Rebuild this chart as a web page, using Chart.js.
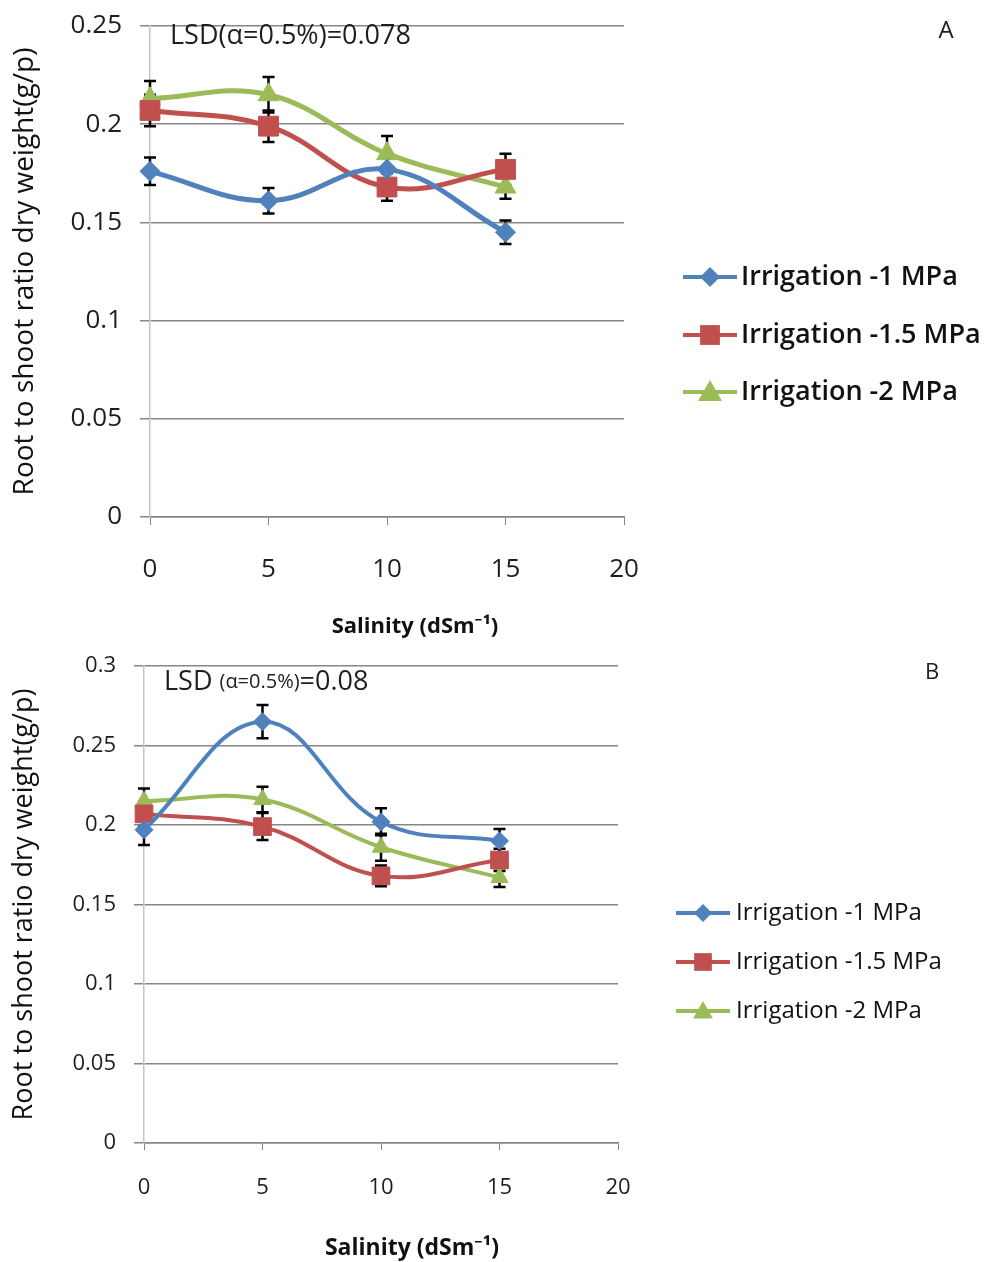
<!DOCTYPE html>
<html lang="en">
<head>
    <meta charset="UTF-8" />
    <title>Root to shoot ratio dry weight</title>
    <script src="https://cdn.jsdelivr.net/npm/chart.js@4.4.1/dist/chart.umd.min.js"></script>
    <style>
        body { margin: 0; background: #fff; }
        .panel { position: absolute; left: 0; }
        #panelA { top: 0; }
        #panelB { top: 645px; }
    </style>
</head>
<body>
    <div class="panel" id="panelA"><canvas id="chartA" width="987" height="645"></canvas></div>
    <div class="panel" id="panelB"><canvas id="chartB" width="987" height="617"></canvas></div>
    <script>
        // Salinity levels (dSm-1)
        const salinity = [0, 5, 10, 15];
        const seriesLabels = ['Irrigation -1 MPa', 'Irrigation -1.5 MPa', 'Irrigation -2 MPa'];

        // Panel A
        const a1MPa = [0.176, 0.161, 0.177, 0.145];
        const a1MPaErr = [0.007, 0.0065, 0.006, 0.006];
        const a15MPa = [0.207, 0.199, 0.168, 0.177];
        const a15MPaErr = [0.008, 0.008, 0.007, 0.008];
        const a2MPa = [0.213, 0.215, 0.185, 0.168];
        const a2MPaErr = [0.009, 0.009, 0.009, 0.006];

        // Panel B
        const b1MPa = [0.197, 0.265, 0.202, 0.190];
        const b1MPaErr = [0.0095, 0.0105, 0.0085, 0.0075];
        const b15MPa = [0.207, 0.199, 0.168, 0.178];
        const b15MPaErr = [0.008, 0.0085, 0.0065, 0.007];
        const b2MPa = [0.215, 0.216, 0.186, 0.167];
        const b2MPaErr = [0.008, 0.008, 0.0085, 0.006];

        const xTicks = [0, 5, 10, 15, 20];

        const colors = ['#4F81BD', '#C0504D', '#9BBB59'];
        const styles = ['rectRot', 'rect', 'triangle'];
        const FONT = "'Open Sans', 'Noto Sans', sans-serif";
        const GRID = '#868686';

        Chart.defaults.font.family = FONT;
        Chart.defaults.color = '#1e1e1e';

        // vertical error bars, drawn under the markers
        const errorBars = {
            id: 'errorBars',
            beforeDatasetsDraw(chart, args, opts) {
                const ctx = chart.ctx;
                const ys = chart.scales.y, xs = chart.scales.x;
                ctx.save();
                ctx.strokeStyle = '#000';
                ctx.lineWidth = opts.width;
                chart.data.datasets.forEach(ds => {
                    ds.data.forEach((p, i) => {
                        const x = xs.getPixelForValue(p.x);
                        const top = ys.getPixelForValue(p.y + ds.err[i]);
                        const bot = ys.getPixelForValue(p.y - ds.err[i]);
                        ctx.beginPath();
                        ctx.moveTo(x, top); ctx.lineTo(x, bot);
                        ctx.moveTo(x - opts.cap, top); ctx.lineTo(x + opts.cap, top);
                        ctx.moveTo(x - opts.cap, bot); ctx.lineTo(x + opts.cap, bot);
                        ctx.stroke();
                    });
                });
                ctx.restore();
            }
        };

        function drawShape(ctx, style, r, x, y) {
            if (style === 'rectRot') {
                ctx.moveTo(x, y - r); ctx.lineTo(x + r, y); ctx.lineTo(x, y + r); ctx.lineTo(x - r, y);
            } else if (style === 'rect') {
                const s = Math.SQRT1_2 * r;
                ctx.rect(x - s, y - s, 2 * s, 2 * s);
            } else {
                const h = r * 0.75;
                ctx.moveTo(x, y - r); ctx.lineTo(x + r, y + h); ctx.lineTo(x - r, y + h);
            }
            ctx.closePath();
        }

        // legend to the right, x title, LSD note and panel letter
        const extras = {
            id: 'extras',
            afterDraw(chart, args, o) {
                const ctx = chart.ctx;
                ctx.save();
                chart.data.datasets.forEach((ds, i) => {
                    const y = o.legendY[i];
                    ctx.strokeStyle = ds.borderColor;
                    ctx.lineWidth = o.legendLine;
                    ctx.beginPath();
                    ctx.moveTo(o.legendX0, y); ctx.lineTo(o.legendX1, y);
                    ctx.stroke();
                    ctx.fillStyle = ds.borderColor;
                    ctx.beginPath();
                    drawShape(ctx, ds.pointStyle, ds.pointRadius, (o.legendX0 + o.legendX1) / 2, y);
                    ctx.fill();
                    ctx.fillStyle = '#111';
                    ctx.font = o.legendFont;
                    ctx.textBaseline = 'middle';
                    ctx.textAlign = 'left';
                    ctx.fillText(ds.label, o.legendTextX, y);
                });
                // LSD text, drawn in parts
                let x = o.lsdX;
                ctx.fillStyle = '#1e1e1e';
                ctx.textBaseline = 'middle';
                o.lsdParts.forEach(p => {
                    ctx.font = p.font;
                    ctx.fillText(p.text, x, o.lsdY);
                    x += ctx.measureText(p.text).width;
                });
                ctx.textAlign = 'center';
                ctx.font = o.letterFont;
                ctx.fillText(o.letter, o.letterX, o.letterY);
                ctx.fillStyle = '#111';
                ctx.font = o.xTitleFont;
                ctx.fillText('Salinity (dSm\u207B\u00B9)', o.xTitleX, o.xTitleY);
                ctx.restore();
            }
        };

        function makeChart(id, series, errs, cfg) {
            const datasets = series.map((vals, i) => ({
                label: seriesLabels[i],
                data: vals.map((v, j) => ({ x: salinity[j], y: v })),
                err: errs[i],
                borderColor: colors[i],
                backgroundColor: colors[i],
                pointBackgroundColor: colors[i],
                pointBorderColor: colors[i],
                borderWidth: cfg.lineWidth,
                pointStyle: styles[i],
                pointRadius: cfg.radii[i],
                pointBorderWidth: 1,
                tension: 0.4,
                fill: false,
                clip: false
            }));
            return new Chart(document.getElementById(id), {
                type: 'line',
                data: { datasets: datasets },
                options: {
                    responsive: false,
                    animation: false,
                    layout: { padding: { left: 4, top: cfg.top, right: cfg.right, bottom: 0 } },
                    parsing: false,
                    scales: {
                        x: {
                            type: 'linear',
                            min: 0, max: 20,
                            afterBuildTicks: s => { s.ticks = xTicks.map(v => ({ value: v })); },
                            afterFit: s => { s.height = cfg.xHeight; },
                            grid: { display: true, drawOnChartArea: false, drawTicks: true,
                                    tickLength: cfg.tickLen, color: GRID, lineWidth: 1 },
                            border: { display: true, color: GRID, width: 1.5 },
                            ticks: { padding: cfg.xPad, font: { size: cfg.tickFont }, maxRotation: 0 }
                        },
                        y: {
                            min: 0, max: cfg.yMax,
                            afterFit: s => {
                                s.width = cfg.yWidth;
                                s.paddingTop = 0;
                                s.paddingBottom = 0;
                            },
                            ticks: { stepSize: 0.05, padding: 18, font: { size: cfg.tickFont },
                                     callback: v => String(Number(v.toFixed(2))) },
                            grid: { color: GRID, lineWidth: 1.5, tickLength: 10 },
                            border: { display: true, color: '#c4c4c4', width: 1.5 },
                            title: { display: true, text: 'Root to shoot ratio dry weight(g/p)',
                                     font: { size: cfg.yTitleFont }, color: '#111' }
                        }
                    },
                    plugins: {
                        legend: { display: false },
                        tooltip: { enabled: false },
                        errorBars: { width: 2.5, cap: 6 },
                        extras: cfg.extras
                    }
                },
                plugins: [errorBars, extras]
            });
        }

        document.addEventListener('DOMContentLoaded', () => {
            makeChart('chartA', [a1MPa, a15MPa, a2MPa], [a1MPaErr, a15MPaErr, a2MPaErr], {
                top: 26, right: 363, xHeight: 128, yWidth: 146, yMax: 0.25,
                tickLen: 8, xPad: 29, tickFont: 26, yTitleFont: 28,
                lineWidth: 5, radii: [10, 14, 12],
                extras: {
                    legendX0: 683, legendX1: 737, legendY: [277, 335, 392], legendLine: 4,
                    legendTextX: 741, legendFont: "600 27px " + FONT,
                    lsdX: 170, lsdY: 36,
                    lsdParts: [{ text: 'LSD(\u03B1=0.5%)=0.078', font: '27px ' + FONT }],
                    letter: 'A', letterX: 946, letterY: 31, letterFont: '24px ' + FONT,
                    xTitleX: 415, xTitleY: 627, xTitleFont: 'bold 22px ' + FONT
                }
            });
            makeChart('chartB', [b1MPa, b15MPa, b2MPa], [b1MPaErr, b15MPaErr, b2MPaErr], {
                top: 21, right: 369, xHeight: 119, yWidth: 140, yMax: 0.3,
                tickLen: 7, xPad: 25, tickFont: 22, yTitleFont: 27,
                lineWidth: 4, radii: [9, 12.5, 10],
                extras: {
                    legendX0: 676, legendX1: 730, legendY: [268, 317, 366], legendLine: 4,
                    legendTextX: 736, legendFont: "24px " + FONT,
                    lsdX: 164, lsdY: 37,
                    lsdParts: [
                        { text: 'LSD ', font: '27px ' + FONT },
                        { text: '(\u03B1=0.5%)', font: '20px ' + FONT },
                        { text: '=0.08', font: '27px ' + FONT }
                    ],
                    letter: 'B', letterX: 932, letterY: 28, letterFont: '22px ' + FONT,
                    xTitleX: 412, xTitleY: 603, xTitleFont: 'bold 23px ' + FONT
                }
            });
        });
    </script>
</body>
</html>
